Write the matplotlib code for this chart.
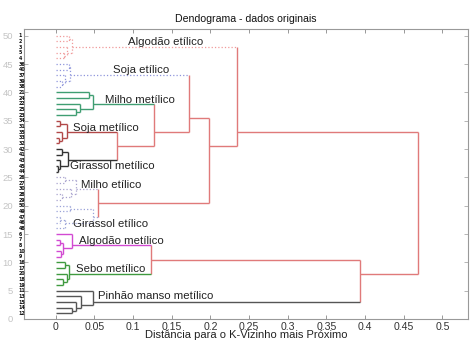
import matplotlib
matplotlib.use("Agg")
import matplotlib.pyplot as plt
import numpy as np

plt.rcParams['font.family'] = ['Liberation Sans', 'DejaVu Sans']

title = "Dendograma - dados originais"
xlabel = "Distância para o K-Vizinho mais Próximo"

# leaf labels, from top to bottom
leaf_order = [1, 2, 3, 5, 4,
              36, 40, 37, 39, 38,
              21, 24, 22, 25, 23,
              34, 31, 35, 33, 32,
              42, 41, 43, 45, 44,
              26, 27, 30, 28, 29,
              50, 49, 47, 46, 48,
              6, 7, 8, 10, 9,
              16, 17, 20, 18, 19,
              11, 13, 15, 14, 12]

# merges inside each group: (node, child 1, child 2, distance)
merges_alg_et = [("a1", 1, 2, 0.017), ("a2", 5, 4, 0.011), ("a3", 3, "a2", 0.015), ("A", "a1", "a3", 0.021)]
merges_soja_et = [("b1", 36, 40, 0.017), ("b2", 39, 38, 0.008), ("b3", 37, "b2", 0.012), ("B", "b1", "b3", 0.019)]
merges_milho_met = [("c1", 21, 24, 0.043), ("c2", 25, 23, 0.026), ("c3", 22, "c2", 0.032), ("C", "c1", "c3", 0.048)]
merges_soja_met = [("d1", 34, 31, 0.006), ("d2", 33, 32, 0.004), ("d3", 35, "d2", 0.008), ("D", "d1", "d3", 0.014)]
merges_gir_met = [("e1", 42, 41, 0.008), ("e2", 45, 44, 0.003), ("e3", 43, "e2", 0.006), ("E", "e1", "e3", 0.016)]
merges_milho_et = [("f1", 26, 27, 0.012), ("f2", 28, 29, 0.008), ("f3", 30, "f2", 0.020), ("F", "f1", "f3", 0.026)]
merges_gir_et = [("g1", 50, 49, 0.018), ("g2", 47, 46, 0.006), ("g3", "g2", 48, 0.012), ("G", "g1", "g3", 0.048)]
merges_alg_met = [("h1", 7, 8, 0.006), ("h2", 10, 9, 0.007), ("h3", "h1", "h2", 0.010), ("H", 6, "h3", 0.021)]
merges_sebo = [("i1", 16, 17, 0.012), ("i2", 18, 19, 0.010), ("i3", 20, "i2", 0.014), ("I", "i1", "i3", 0.017)]
merges_pinhao = [("j1", 14, 12, 0.021), ("j2", 15, "j1", 0.026), ("j3", 13, "j2", 0.033), ("J", 11, "j3", 0.048)]

# merges between groups
merges_top = [("DE", "D", "E", 0.079), ("CDE", "C", "DE", 0.127), ("BCDE", "B", "CDE", 0.172),
              ("FG", "F", "G", 0.055), ("BG", "BCDE", "FG", 0.198), ("AG", "A", "BG", 0.234),
              ("HI", "H", "I", 0.123), ("HJ", "HI", "J", 0.394), ("root", "AG", "HJ", 0.468)]

group_roots = ["A", "B", "C", "D", "E", "F", "G", "H", "I", "J"]
group_names = ["Algodão etílico", "Soja etílico", "Milho metílico", "Soja metílico",
               "Girassol metílico", "Milho etílico", "Girassol etílico", "Algodão metílico",
               "Sebo metílico", "Pinhão manso metílico"]

# styles / layout
group_colors = ["#f09a9a", "#8f95dc", "#3f9e72", "#b24848", "#333333",
                "#a9a3cf", "#9aa2d8", "#d24ad2", "#3f9a3f", "#555555"]
group_ls = [":", ":", "-", "-", "-", ":", ":", "-", "-", "-"]
top_color = "#e07a7a"
label_x = [0.094, 0.074, 0.064, 0.022, 0.018, 0.033, 0.022, 0.030, 0.026, 0.055]
label_y = [48.9, 43.9, 38.6, 33.8, 27.0, 23.6, 16.7, 13.8, 8.9, 4.0]

all_merges = (merges_alg_et + merges_soja_et + merges_milho_met + merges_soja_met + merges_gir_met +
              merges_milho_et + merges_gir_et + merges_alg_met + merges_sebo + merges_pinhao + merges_top)

n = len(leaf_order)
ypos = {lab: n - i for i, lab in enumerate(leaf_order)}
height = {lab: 0.0 for lab in leaf_order}
members = {lab: [lab] for lab in leaf_order}
children = {}
for name, l, r, h in all_merges:
    children[name] = (l, r)
    height[name] = h
    members[name] = members[l] + members[r]
    ypos[name] = float(np.mean([ypos[x] for x in members[name]]))

style = {}
def mark(node, st):
    style[node] = st
    if node in children:
        for c in children[node]:
            mark(c, st)

for root, col, ls in zip(group_roots, group_colors, group_ls):
    mark(root, (col, ls))
for name, _, _, _ in merges_top:
    style[name] = (top_color, "-")

fig = plt.figure(figsize=(4.7, 3.42), dpi=100)
ax = fig.add_axes([24 / 470, 1 - 319 / 342, 444 / 470, 290 / 342])

def lw_of(ls):
    return 0.9 if ls == ":" else 1.0

for name, l, r, h in all_merges:
    col, ls = style[name]
    ax.plot([h, h], [ypos[l], ypos[r]], color=col, ls=ls, lw=lw_of(ls), solid_capstyle="butt")
    for c in (l, r):
        col, ls = style[c]
        ax.plot([height[c], h], [ypos[c], ypos[c]], color=col, ls=ls, lw=lw_of(ls), solid_capstyle="butt")

for name, x, y in zip(group_names, label_x, label_y):
    ax.text(x, y, name, fontsize=8.2, color="#222222", ha="left", va="center")

ytr = ax.get_yaxis_transform()
for lab in leaf_order:
    ax.text(-0.012, ypos[lab], str(lab), transform=ytr, fontsize=3.4, color="#111111",
            ha="left", va="center", family="DejaVu Sans", fontweight="bold")

ax.set_xlim(-0.041, 0.533)
ax.set_ylim(0, 51.2)
ax.set_xticks(np.arange(0, 0.51, 0.05))
ax.set_xticklabels(["0", "0.05", "0.1", "0.15", "0.2", "0.25", "0.3", "0.35", "0.4", "0.45", "0.5"])
ax.set_yticks(np.arange(0, 51, 5))
ax.tick_params(axis="x", direction="in", length=3, width=0.6, color="#888888", top=True,
               labelsize=7.6, labelcolor="#333333", pad=2.0)
ax.tick_params(axis="y", direction="in", length=3, width=0.6, color="#aaaaaa", right=True,
               labelsize=6.8, labelcolor="#c4c4c4", pad=8)
for s in ax.spines.values():
    s.set_color("#999999")
    s.set_linewidth(0.8)

ax.set_xlabel(xlabel, fontsize=8.0, color="#222222", labelpad=-1.0)
ax.set_title(title, fontsize=7.6, color="#111111", pad=5)

fig.savefig("out.png", dpi=100)
